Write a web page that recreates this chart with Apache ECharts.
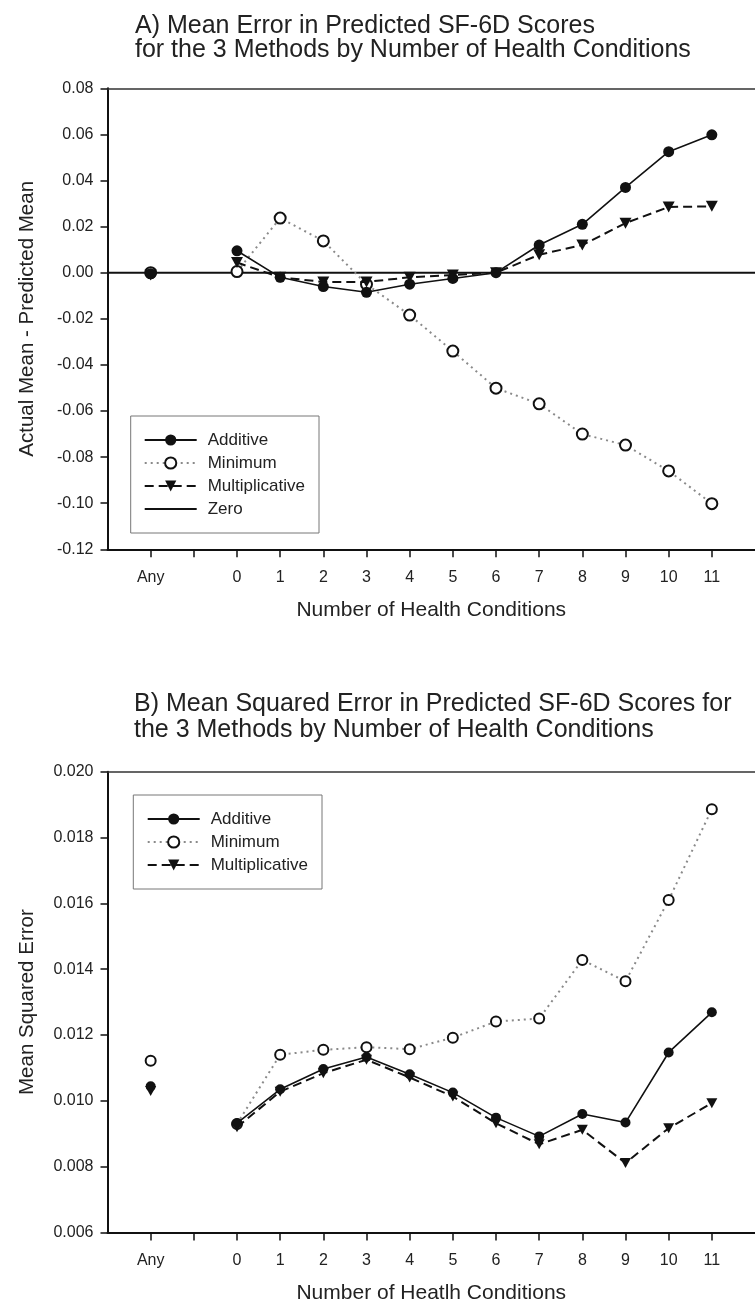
<!DOCTYPE html>
<html>
<head>
<meta charset="utf-8">
<script src="https://cdn.jsdelivr.net/npm/echarts@6/dist/echarts.min.js"></script>
<style>
html,body{margin:0;padding:0;background:#fff;}
#chart{width:755px;height:1310px;}
</style>
</head>
<body>
<div id="chart"></div>
<script>
// ---- tick positions / labels (shared x axis) ----
const tickPositions = [-2, -1, 0, 1, 2, 3, 4, 5, 6, 7, 8, 9, 10, 11];
const tickLabels = ['Any', '', '0', '1', '2', '3', '4', '5', '6', '7', '8', '9', '10', '11'];
const anyPos = -2;
const countPos = [0, 1, 2, 3, 4, 5, 6, 7, 8, 9, 10, 11];
const xRange = [-3, 12];

// ---- A) mean error ----
const meAdditiveAny = -0.0005;
const meAdditive = [0.0095, -0.002, -0.006, -0.0085, -0.005, -0.0025, 0.0, 0.012, 0.021, 0.037, 0.0525, 0.0598];
const meMinimumAny = 0.0;
const meMinimum = [0.0005, 0.0237, 0.0138, -0.005, -0.0184, -0.034, -0.0501, -0.0569, -0.070, -0.0748, -0.086, -0.1002];
const meMultAny = -0.001;
const meMult = [0.0044, -0.002, -0.004, -0.004, -0.002, -0.001, 0.0, 0.0078, 0.012, 0.0215, 0.0285, 0.0288];
const zeroY = [0, 0];

// ---- B) mean squared error ----
const mseAdditiveAny = 0.01044;
const mseAdditive = [0.00932, 0.01035, 0.01097, 0.01133, 0.01081, 0.01025, 0.00949, 0.00892, 0.0096, 0.00934, 0.01147, 0.01269];
const mseMinimumAny = 0.01122;
const mseMinimum = [0.0093, 0.0114, 0.01155, 0.01163, 0.01157, 0.01192, 0.01241, 0.0125, 0.01428, 0.01363, 0.0161, 0.01886];
const mseMultAny = 0.0103;
const mseMult = [0.0092, 0.01028, 0.01084, 0.01125, 0.01071, 0.01013, 0.00932, 0.00868, 0.00912, 0.00811, 0.00917, 0.00993];

const FONT = 'Liberation Sans';
const TXT = '#222';
const triDown = 'path://M0,0L10,0L5,9Z';

function build(anyVal, vals) {
  const d = [[anyPos, anyVal], [anyPos + 1, '-']];
  countPos.forEach((x, i) => d.push([x, vals[i]]));
  return d;
}
function xLabel(v) {
  const i = tickPositions.indexOf(v);
  return i >= 0 ? tickLabels[i] : '';
}

function xAxisFor(idx, name) {
  return {
    type: 'value', gridIndex: idx, min: xRange[0], max: xRange[1], interval: 1,
    axisLine: { onZero: false, lineStyle: { color: '#111', width: 2 } },
    axisTick: { customValues: tickPositions, length: 8, lineStyle: { color: '#111', width: 1.5 } },
    axisLabel: { customValues: tickPositions, formatter: xLabel, fontSize: 16, fontFamily: FONT, color: TXT, margin: 20 },
    splitLine: { show: false },
    name: name, nameLocation: 'middle', nameGap: 50,
    nameTextStyle: { fontSize: 21, fontFamily: FONT, color: TXT }
  };
}
function topFrameFor(idx) {
  return {
    type: 'value', gridIndex: idx, position: 'top', min: xRange[0], max: xRange[1], interval: 1,
    axisLine: { show: true, onZero: false, lineStyle: { color: '#333', width: 1.5 } },
    axisTick: { show: false }, axisLabel: { show: false }, splitLine: { show: false }
  };
}
function yAxisFor(idx, min, max, interval, digits, name) {
  return {
    type: 'value', gridIndex: idx, min: min, max: max, interval: interval,
    axisLine: { show: true, onZero: false, lineStyle: { color: '#111', width: 2 } },
    axisTick: { show: true, length: 7, lineStyle: { color: '#111', width: 1.5 } },
    axisLabel: {
      formatter: v => (Math.abs(v) < 1e-9 ? (0).toFixed(digits) : v.toFixed(digits)),
      fontSize: 16, fontFamily: FONT, color: TXT, margin: 14
    },
    splitLine: { show: false },
    name: name, nameLocation: 'middle', nameGap: 70,
    nameTextStyle: { fontSize: 20.5, fontFamily: FONT, color: TXT }
  };
}
function seriesSet(gi, addAny, add, minAny, min, multAny, mult, symSize) {
  return [
    {
      name: 'Minimum', type: 'line', xAxisIndex: gi * 2, yAxisIndex: gi,
      data: build(minAny, min), symbol: 'emptyCircle', symbolSize: symSize,
      itemStyle: { color: '#111', borderWidth: 2 },
      lineStyle: { color: '#8a8a8a', width: 2, type: [2, 4] }, z: 3
    },
    {
      name: 'Multiplicative', type: 'line', xAxisIndex: gi * 2, yAxisIndex: gi,
      data: build(multAny, mult), symbol: triDown, symbolSize: [symSize + 1, symSize],
      itemStyle: { color: '#111' },
      lineStyle: { color: '#111', width: 2, type: [9, 5] }, z: 4
    },
    {
      name: 'Additive', type: 'line', xAxisIndex: gi * 2, yAxisIndex: gi,
      data: build(addAny, add), symbol: 'circle', symbolSize: symSize,
      itemStyle: { color: '#111' },
      lineStyle: { color: '#111', width: 1.6 }, z: 5
    }
  ];
}

const legendCommon = {
  orient: 'vertical', itemWidth: 52, itemHeight: 14, itemGap: 3,
  borderColor: '#777', borderWidth: 1, selectedMode: false,
  textStyle: { fontSize: 17, lineHeight: 20, fontFamily: FONT, color: TXT, padding: [0, 0, 0, 6] }
};

const option = {
  animation: false,
  backgroundColor: '#fff',
  title: [
    {
      text: 'A) Mean Error in Predicted SF-6D Scores\nfor the 3 Methods by Number of Health Conditions',
      left: 130, top: 9,
      textStyle: { fontFamily: FONT, fontSize: 25, fontWeight: 'normal', color: TXT, lineHeight: 24 }
    },
    {
      text: 'B) Mean Squared Error in Predicted SF-6D Scores for\nthe 3 Methods by Number of Health Conditions',
      left: 129, top: 686.5,
      textStyle: { fontFamily: FONT, fontSize: 25, fontWeight: 'normal', color: TXT, lineHeight: 26 }
    }
  ],
  grid: [
    { left: 107.5, top: 88.3, width: 657.75, height: 461 },
    { left: 107.5, top: 771.7, width: 657.75, height: 460.8 }
  ],
  xAxis: [
    xAxisFor(0, 'Number of Health Conditions'), topFrameFor(0),
    xAxisFor(1, 'Number of Heatlh Conditions'), topFrameFor(1)
  ],
  yAxis: [
    yAxisFor(0, -0.12, 0.08, 0.02, 2, 'Actual Mean - Predicted Mean'),
    yAxisFor(1, 0.006, 0.020, 0.002, 3, 'Mean Squared Error')
  ],
  legend: [
    Object.assign({}, legendCommon, {
      left: 130.7, top: 416, padding: [14, 14, 14, 13],
      data: [{ name: 'Additive' }, { name: 'Minimum' }, { name: 'Multiplicative' },
             { name: 'Zero', icon: 'path://M0,0H52V2.2H0Z' }]
    }),
    Object.assign({}, legendCommon, {
      left: 133.3, top: 795, padding: [14, 14, 14, 13.4],
      data: [{ name: 'Additive' }, { name: 'Minimum' }, { name: 'Multiplicative' }]
    })
  ],
  series: [
    {
      name: 'Zero', type: 'line', xAxisIndex: 0, yAxisIndex: 0,
      data: xRange.map((x, i) => [x, zeroY[i]]), symbol: 'none',
      itemStyle: { color: '#111' }, lineStyle: { color: '#111', width: 2 }, z: 2
    }
  ].concat(
    seriesSet(0, meAdditiveAny, meAdditive, meMinimumAny, meMinimum, meMultAny, meMult, 11),
    seriesSet(1, mseAdditiveAny, mseAdditive, mseMinimumAny, mseMinimum, mseMultAny, mseMult, 10)
  )
};

const chart = echarts.init(document.getElementById('chart'), null, { renderer: 'canvas' });
chart.setOption(option);
</script>
</body>
</html>
